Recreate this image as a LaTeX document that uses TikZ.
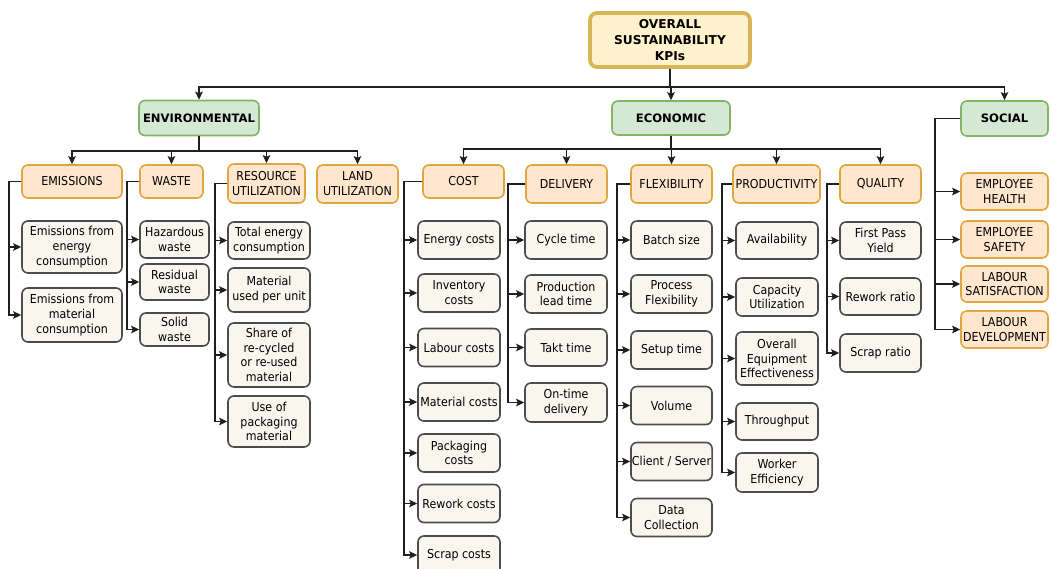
\documentclass[tikz,border=0pt]{standalone}
\usepackage{fontspec}
\setmainfont{DejaVu Sans}[FakeStretch=0.9]
\newfontfamily\headfont{DejaVu Sans}
\usetikzlibrary{arrows.meta}

\definecolor{topfill}{HTML}{FFF2CC}
\definecolor{topline}{HTML}{D6B656}
\definecolor{greenfill}{HTML}{D5E8D4}
\definecolor{greenline}{HTML}{82B366}
\definecolor{orangefill}{HTML}{FFE6CC}
\definecolor{orangeline}{HTML}{E0A640}
\definecolor{leaffill}{HTML}{F9F7ED}
\definecolor{leafline}{HTML}{4A4C50}

\tikzset{
  sz/.style 2 args={minimum width=#1pt, minimum height=#2pt},
  base/.style={rounded corners=6pt, line width=1.6pt, align=center, inner sep=1pt,
               font=\fontsize{12.3}{14.8}\selectfont, text=black},
  topbox/.style={base, draw=topline, fill=topfill, line width=3.8pt, rounded corners=7pt,
                 font=\headfont\bfseries\fontsize{12.2}{16}\selectfont},
  pillar/.style={base, draw=greenline, fill=greenfill,
                 font=\headfont\bfseries\fontsize{11.6}{14}\selectfont},
  group/.style={base, draw=orangeline, fill=orangefill},
  leaf/.style={base, draw=leafline, fill=leaffill},
  link/.style={line width=1.9pt, draw=black!88},
  arr/.style={link, -{Stealth[length=8pt,width=7.5pt,inset=1.5pt]}},
}

\begin{document}
\begin{tikzpicture}[x=1pt, y=-1pt]
\useasboundingbox (0,0) rectangle (1051,569);

% root and the three pillars
\node[topbox, sz={160}{54}] (kpis) at (670,40) {OVERALL\\SUSTAINABILITY\\KPIs};
\node[pillar, sz={120}{35}] (env)  at (199,118)   {ENVIRONMENTAL};
\node[pillar, sz={118}{34}] (econ) at (671,118)   {ECONOMIC};
\node[pillar, sz={87}{35}]  (soc)  at (1004.5,118.5) {SOCIAL};

% environmental groups
\node[group, sz={100}{33}] (emis)  at (72,181.5)    {EMISSIONS};
\node[group, sz={63}{33}]  (waste) at (171.5,181.5) {WASTE};
\node[group, sz={77}{39}]  (res)   at (266.5,183.5) {RESOURCE\\UTILIZATION};
\node[group, sz={81}{38}]  (land)  at (357.5,184)   {LAND\\UTILIZATION};

\node[leaf, sz={100}{52}] (em1) at (72,247) {Emissions from\\energy\\consumption};
\node[leaf, sz={100}{54}] (em2) at (72,315) {Emissions from\\material\\consumption};

\node[leaf, sz={69}{37}] (wa1) at (174.5,239.5) {Hazardous\\waste};
\node[leaf, sz={69}{36}] (wa2) at (174.5,282)   {Residual\\waste};
\node[leaf, sz={69}{33}] (wa3) at (174.5,329.5) {Solid\\waste};

\node[leaf, sz={82}{37}] (re1) at (269,240.5) {Total energy\\consumption};
\node[leaf, sz={82}{44}] (re2) at (269,290)   {Material\\used per unit};
\node[leaf, sz={82}{64}] (re3) at (269,355)   {Share of\\re-cycled\\or re-used\\material};
\node[leaf, sz={82}{51}] (re4) at (269,421.5) {Use of\\packaging\\material};

% economic groups
\node[group, sz={81}{33}] (cost) at (463.5,181.5) {COST};
\node[group, sz={81}{38}] (del)  at (566.5,184)   {DELIVERY};
\node[group, sz={81}{38}] (flex) at (671.5,184)   {FLEXIBILITY};
\node[group, sz={87}{38}] (prod) at (776.5,184)   {PRODUCTIVITY};
\node[group, sz={81}{38}] (qual) at (880.5,184)   {QUALITY};

\node[leaf, sz={82}{38}] (co1) at (459,240)   {Energy costs};
\node[leaf, sz={82}{38}] (co2) at (459,293)   {Inventory\\costs};
\node[leaf, sz={82}{38}] (co3) at (459,347.5) {Labour costs};
\node[leaf, sz={82}{38}] (co4) at (459,402)   {Material costs};
\node[leaf, sz={82}{38}] (co5) at (459,453)   {Packaging\\costs};
\node[leaf, sz={82}{38}] (co6) at (459,503.5) {Rework costs};
\node[leaf, sz={82}{38}] (co7) at (459,555)   {Scrap costs};

\node[leaf, sz={82}{38}] (de1) at (566,240)   {Cycle time};
\node[leaf, sz={82}{38}] (de2) at (566,294)   {Production\\lead time};
\node[leaf, sz={82}{37}] (de3) at (566,347.5) {Takt time};
\node[leaf, sz={82}{39}] (de4) at (566,402.5) {On-time\\delivery};

\node[leaf, sz={81}{38}] (fl1) at (671.5,240)   {Batch size};
\node[leaf, sz={81}{38}] (fl2) at (671.5,294)   {Process\\Flexibility};
\node[leaf, sz={81}{38}] (fl3) at (671.5,350)   {Setup time};
\node[leaf, sz={81}{38}] (fl4) at (671.5,405.5) {Volume};
\node[leaf, sz={81}{38}] (fl5) at (671.5,461.5) {Client / Server};
\node[leaf, sz={81}{38}] (fl6) at (671.5,517.5) {Data\\Collection};

\node[leaf, sz={82}{37}] (pr1) at (777,240.5) {Availability};
\node[leaf, sz={82}{38}] (pr2) at (777,297)   {Capacity\\Utilization};
\node[leaf, sz={82}{53}] (pr3) at (777,358.5) {Overall\\Equipment\\Effectiveness};
\node[leaf, sz={82}{37}] (pr4) at (777,421.5) {Throughput};
\node[leaf, sz={82}{39}] (pr5) at (777,472.5) {Worker\\Efficiency};

\node[leaf, sz={81}{37}] (qu1) at (880.5,240.5) {First Pass\\Yield};
\node[leaf, sz={81}{37}] (qu2) at (880.5,296.5) {Rework ratio};
\node[leaf, sz={81}{38}] (qu3) at (880.5,353)   {Scrap ratio};

% social groups
\node[group, sz={87}{37}] (so1) at (1004.5,191.5) {EMPLOYEE\\HEALTH};
\node[group, sz={87}{37}] (so2) at (1004.5,239.5) {EMPLOYEE\\SAFETY};
\node[group, sz={87}{36}] (so3) at (1004.5,284)   {LABOUR\\SATISFACTION};
\node[group, sz={87}{37}] (so4) at (1004.5,329.5) {LABOUR\\DEVELOPMENT};

% root to pillars
\foreach \p in {env,econ,soc}
  \draw[arr] (kpis.south) -- ++(0,18) -| (\p.north);

% pillars to groups (top bus)
\foreach \g in {emis,waste,res,land}
  \draw[arr] (env.south) -- ++(0,15) -| (\g.north);
\foreach \g in {cost,del,flex,prod,qual}
  \draw[arr] (econ.south) -- ++(0,13) -| (\g.north);

% groups to items (side trunks)
\foreach \c in {em1,em2}        \draw[arr] (emis.west)  -- ++(-12,0) |- (\c.west);
\foreach \c in {wa1,wa2,wa3}    \draw[arr] (waste.west) -- ++(-12,0) |- (\c.west);
\foreach \c in {re1,re2,re3,re4} \draw[arr] (res.west)  -- ++(-12,0) |- (\c.west);
\foreach \c in {co1,co2,co3,co4,co5,co6,co7} \draw[arr] (cost.west) -- ++(-18,0) |- (\c.west);
\foreach \c in {de1,de2,de3,de4} \draw[arr] (del.west)  -- ++(-17,0) |- (\c.west);
\foreach \c in {fl1,fl2,fl3,fl4,fl5,fl6} \draw[arr] (flex.west) -- ++(-13,0) |- (\c.west);
\foreach \c in {pr1,pr2,pr3,pr4,pr5} \draw[arr] (prod.west) -- ++(-10,0) |- (\c.west);
\foreach \c in {qu1,qu2,qu3}    \draw[arr] (qual.west)  -- ++(-12,0) |- (\c.west);
\foreach \c in {so1,so2,so3,so4} \draw[arr] (soc.west)  -- ++(-25,0) |- (\c.west);
\end{tikzpicture}
\end{document}
